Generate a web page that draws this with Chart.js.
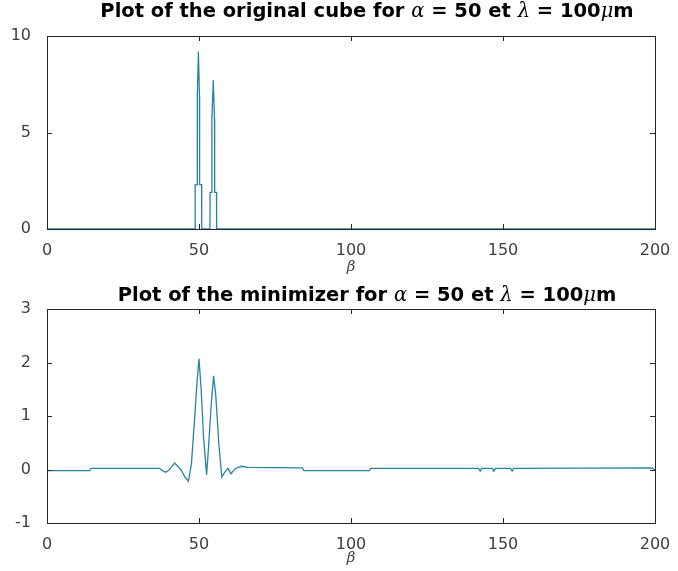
<!DOCTYPE html>
<html>
<head>
<meta charset="utf-8">
<script src="https://cdn.jsdelivr.net/npm/chart.js@4"></script>
<style>
  body { margin: 0; background: #fff; }
  #wrap { position: relative; width: 678px; height: 571px; overflow: hidden; }
  canvas { position: absolute; left: 0; }
  .title {
    position: absolute; left: 63px; width: 608px; text-align: center;
    font: bold 19.5px "DejaVu Sans", sans-serif; color: #000; white-space: nowrap;
  }
  .title i { font-family: "DejaVu Serif", serif; font-weight: normal; }
</style>
</head>
<body>
<div id="wrap">
  <canvas id="top" width="678" height="280" style="top:0"></canvas>
  <canvas id="bottom" width="678" height="291" style="top:280px"></canvas>
  <div class="title" style="top:-1px">Plot of the original cube for <i>α</i> = 50 et <i>λ</i> = 100<i>μ</i>m</div>
  <div class="title" style="top:283px">Plot of the minimizer for <i>α</i> = 50 et <i>λ</i> = 100<i>μ</i>m</div>
</div>
<script>
const betaCube = [0, 48.7, 48.75, 49.4, 49.45, 49.8, 50.15, 50.2, 50.85, 50.9,
  53.6, 53.65, 54.2, 54.25, 54.7, 55.1, 55.15, 55.75, 55.8, 200];
const cubeVals = [0, 0, 2.3, 2.3, 6.9, 9.2, 6.9, 2.3, 2.3, 0,
  0, 1.9, 1.9, 5.7, 7.7, 5.7, 1.9, 1.9, 0, 0];

// minimizer
const betaMin = [0, 14, 14.5, 37, 38, 39, 40, 42, 44, 45.5, 46.5, 47.5, 48.5, 49.3, 50,
  50.7, 51.5, 52.5, 53, 54, 54.8, 55.5, 56.5, 57.5, 58.5, 59.5, 60.5, 62, 64, 66,
  84, 84.5, 106, 106.5, 142, 142.5, 143, 146.5, 147, 147.5, 152.5, 153, 153.5, 199, 200];
const minVals = [-0.02, -0.02, 0.02, 0.02, -0.02, -0.05, -0.02, 0.12, 0.0, -0.15, -0.22, 0.1, 0.9, 1.6, 2.07,
  1.5, 0.6, -0.1, 0.3, 1.2, 1.75, 1.4, 0.5, -0.14, -0.05, 0.02, -0.08, 0.02, 0.06, 0.04,
  0.03, -0.02, -0.02, 0.02, 0.02, -0.03, 0.02, 0.02, -0.03, 0.02, 0.02, -0.03, 0.02, 0.03, -0.01];

const xTicks = [0, 50, 100, 150, 200];
const topYTicks = [0, 5, 10];
const bottomYTicks = [-1, 0, 1, 2, 3];

const lineColor = '#2a84a0';
const axisColor = '#262626';
const labelColor = '#404040';

// box around the axes with inward ticks on all four sides
const boxPlugin = {
  id: 'box',
  afterDraw(chart) {
    const { ctx, chartArea: a, scales } = chart;
    ctx.save();
    ctx.strokeStyle = axisColor;
    ctx.lineWidth = 1;
    ctx.strokeRect(Math.round(a.left) + 0.5, Math.round(a.top) + 0.5,
      Math.round(a.right - a.left), Math.round(a.bottom - a.top));
    ctx.beginPath();
    scales.x.ticks.forEach((t) => {
      const px = Math.round(scales.x.getPixelForValue(t.value)) + 0.5;
      ctx.moveTo(px, a.bottom); ctx.lineTo(px, a.bottom - 5);
      ctx.moveTo(px, a.top); ctx.lineTo(px, a.top + 5);
    });
    scales.y.ticks.forEach((t) => {
      const py = Math.round(scales.y.getPixelForValue(t.value)) + 0.5;
      ctx.moveTo(a.left, py); ctx.lineTo(a.left + 5, py);
      ctx.moveTo(a.right, py); ctx.lineTo(a.right - 5, py);
    });
    ctx.stroke();
    ctx.restore();
  },
};

function makeChart(id, xs, ys, yMin, yMax, yTicks, padTop, xHeight) {
  return new Chart(document.getElementById(id), {
    type: 'line',
    data: {
      datasets: [{
        data: xs.map((x, i) => ({ x, y: ys[i] })),
        borderColor: lineColor,
        borderWidth: 1.3,
        pointRadius: 0,
        tension: 0,
      }],
    },
    options: {
      responsive: false,
      animation: false,
      layout: { padding: { top: padTop, right: 23, left: 0, bottom: 0 } },
      plugins: { legend: { display: false }, tooltip: { enabled: false } },
      scales: {
        x: {
          type: 'linear',
          min: 0,
          max: 200,
          afterBuildTicks: (s) => { s.ticks = xTicks.map((v) => ({ value: v })); },
          afterFit: (s) => { s.height = xHeight; },
          grid: { display: false },
          border: { display: false },
          ticks: { padding: 4, color: labelColor, font: { family: 'DejaVu Sans', size: 16 }, maxRotation: 0 },
          title: {
            display: true,
            text: 'β',
            color: labelColor,
            padding: { top: -3 },
            font: { family: 'DejaVu Serif', style: 'italic', size: 15 },
          },
        },
        y: {
          min: yMin,
          max: yMax,
          afterBuildTicks: (s) => { s.ticks = yTicks.map((v) => ({ value: v })); },
          afterFit: (s) => { s.width = 47; },
          grid: { display: false },
          border: { display: false },
          ticks: { padding: 8, color: labelColor, font: { family: 'DejaVu Sans', size: 16 } },
        },
      },
    },
    plugins: [boxPlugin],
  });
}

makeChart('top', betaCube, cubeVals, 0, 10, topYTicks, 36, 51);
makeChart('bottom', betaMin, minVals, -1, 3, bottomYTicks, 29, 48);
</script>
</body>
</html>
